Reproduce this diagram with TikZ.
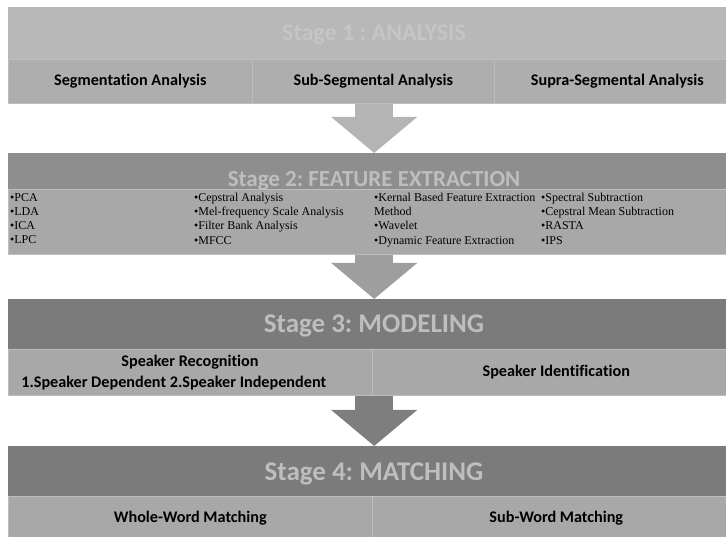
\documentclass[tikz,border=0pt]{standalone}
\usepackage{fontspec}
\setmainfont{Liberation Serif}
\newfontfamily\calibri[Ligatures=NoCommon]{Carlito}
\usetikzlibrary{arrows.meta}
\definecolor{headone}{HTML}{B8B8B8}
\definecolor{headtwo}{HTML}{8E8E8E}
\definecolor{headthree}{HTML}{7B7B7B}
\definecolor{cellone}{HTML}{AEAEAE}
\definecolor{cellgray}{HTML}{A8A8A8}
\definecolor{titleone}{HTML}{C5C5C5}
\definecolor{titlegray}{HTML}{BEBEBE}
\definecolor{arrowone}{HTML}{B4B4B4}
\definecolor{arrowtwo}{HTML}{9E9E9E}
\definecolor{arrowthree}{HTML}{7E7E7E}
\definecolor{rule}{HTML}{BEBEBE}
\frenchspacing

\begin{document}
\begin{tikzpicture}[x=1pt, y=-1pt]
    \tikzstyle{every node}+=[inner sep=0pt]
    \tikzstyle{band}=[rectangle, anchor=north west, minimum width=732pt]
    \tikzstyle{cell}=[rectangle, anchor=north west, draw=rule, line width=0.6pt, font=\calibri\bfseries\fontsize{16.2}{18}\selectfont]
    \tikzstyle{title}=[anchor=base, font=\calibri\bfseries\fontsize{27}{30}\selectfont, text=titlegray]
    \tikzstyle{item}=[anchor=north west, align=left, font=\fontsize{12}{14.2}\selectfont]
    \tikzstyle{bigarrow}=[line width=38pt, -{Triangle[width=84pt,length=36pt]}]
    \useasboundingbox (0,0) rectangle (726,537);
    % stage 1
    \node [band, fill=headone, minimum height=52pt] (h1) at (8,7) {};
    \node [title, text=titleone, font=\calibri\bfseries\fontsize{24}{28}\selectfont] (t1) at (374,41) {Stage 1 : ANALYSIS};
    \node [cell, fill=cellone, minimum width=244pt, minimum height=44pt] (c11) at (8,59) {Segmentation Analysis};
    \node [cell, fill=cellone, minimum width=242pt, minimum height=44pt] (c12) at (252,59) {Sub-Segmental Analysis};
    \node [cell, fill=cellone, minimum width=246pt, minimum height=44pt] (c13) at (494,59) {Supra-Segmental Analysis};
    % stage 2
    \node [band, fill=headtwo, minimum height=36pt] (h2) at (8,153) {};
    \node [title, font=\calibri\bfseries\fontsize{23}{26}\selectfont] (t2) at (374,187) {Stage 2: FEATURE EXTRACTION};
    \node [cell, fill=cellgray, minimum width=732pt, minimum height=65pt] (b2) at (8,189) {};
    \node [item] (l1) at (10,193) {•PCA\\•LDA\\•ICA\\•LPC};
    \node [item] (l2) at (194,193) {•Cepstral Analysis\\•Mel-frequency Scale Analysis\\•Filter Bank Analysis\\•MFCC};
    \node [item] (l3) at (374,193) {•Kernal Based Feature Extraction\\Method\\•Wavelet\\•Dynamic Feature Extraction};
    \node [item] (l4) at (541,193) {•Spectral Subtraction\\•Cepstral Mean Subtraction\\•RASTA\\•IPS};
    \draw [bigarrow, arrowone] (h2.north |- c12.south) -- (h2.north);
    % stage 3
    \node [band, fill=headthree, minimum height=50pt] (h3) at (8,299) {};
    \node [title] (t3) at (374,333) {Stage 3: MODELING};
    \node [cell, fill=cellgray, minimum width=364pt, minimum height=46pt] (c31) at (8,349) {};
    \node [cell, fill=cellgray, minimum width=368pt, minimum height=46pt] (c32) at (372,349) {Speaker Identification};
    \node [cell, draw=none] (r1) at (190,362) [anchor=center] {Speaker Recognition};
    \node [cell, draw=none] (r2) at (21,383) [anchor=west] {1.Speaker Dependent 2.Speaker Independent};
    \draw [bigarrow, arrowtwo] (h3.north |- b2.south) -- (h3.north);
    % stage 4
    \node [band, fill=headthree, minimum height=50pt] (h4) at (8,446) {};
    \node [title] (t4) at (374,480) {Stage 4: MATCHING};
    \node [cell, fill=cellgray, minimum width=364pt, minimum height=44pt] (c41) at (8,496) {Whole-Word Matching};
    \node [cell, fill=cellgray, minimum width=368pt, minimum height=44pt] (c42) at (372,496) {Sub-Word Matching};
    \draw [bigarrow, arrowthree] (h4.north |- c31.south) -- (h4.north);
\end{tikzpicture}
\end{document}
